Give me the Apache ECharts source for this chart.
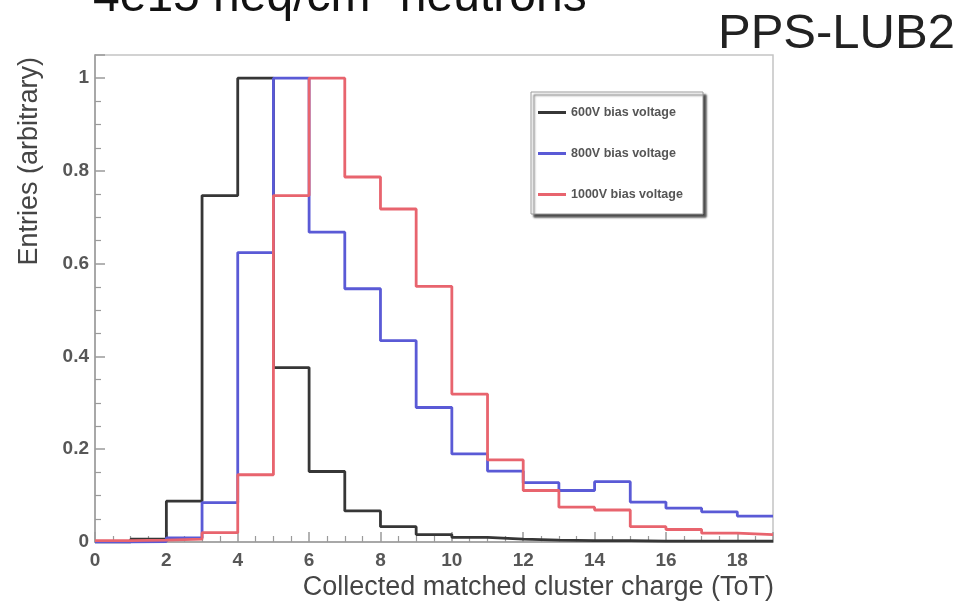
<!DOCTYPE html>
<html>
<head>
<meta charset="utf-8">
<script src="https://cdn.jsdelivr.net/npm/echarts@6/dist/echarts.min.js"></script>
<style>
  html, body { margin: 0; padding: 0; background: #fff; }
  #chart { width: 959px; height: 601px; }
</style>
</head>
<body>
<div id="chart"></div>
<script>
// Histogram bins: lower edges (ToT units), last upper edge closes the outline
const binLow = [0, 1, 2, 3, 4, 5, 6, 7, 8, 9, 10, 11, 12, 13, 14, 15, 16, 17, 18];
const binHighLast = 19;

// Normalised entries per bin for each bias voltage
const v600 = [0, 0.006, 0.088, 0.747, 1.0, 0.376, 0.152, 0.067, 0.033, 0.016, 0.010, 0.006, 0.004, 0.003, 0.003, 0.002, 0.002, 0.002, 0.002];
const v800 = [0, 0.001, 0.009, 0.085, 0.624, 1.0, 0.668, 0.546, 0.434, 0.290, 0.190, 0.153, 0.128, 0.111, 0.130, 0.086, 0.073, 0.065, 0.056];
const v1000 = [0.003, 0.004, 0.006, 0.020, 0.145, 0.747, 1.0, 0.787, 0.718, 0.551, 0.319, 0.177, 0.111, 0.075, 0.069, 0.033, 0.027, 0.019, 0.016];

const seriesNames = ['600V bias voltage', '800V bias voltage', '1000V bias voltage'];
const seriesColors = ['#363636', '#5a5ad6', '#e8646e'];

const xTicks = { min: 0, max: 19, interval: 2 };
const yTicks = { min: 0, max: 1.05, interval: 0.2 };

// Turn bin contents into step-outline points
function outline(vals) {
  const pts = binLow.map((x, i) => [x, vals[i]]);
  pts.push([binHighLast, vals[vals.length - 1]]);
  return pts;
}

const chart = echarts.init(document.getElementById('chart'), null, { renderer: 'canvas' });

const FONT = '"Liberation Sans", Arial, Helvetica, sans-serif';
const axisGrey = '#9a9a9a';

chart.setOption({
  animation: false,
  backgroundColor: '#fff',
  grid: {
    left: 95, right: 186, top: 55, bottom: 59,
    show: true, borderColor: '#c4c4c4', borderWidth: 1.5, backgroundColor: 'transparent'
  },
  xAxis: {
    type: 'value',
    min: xTicks.min, max: xTicks.max, interval: xTicks.interval,
    axisLine: { show: true, onZero: false, lineStyle: { color: axisGrey, width: 1.5 } },
    axisTick: { show: true, inside: true, length: 10, lineStyle: { color: axisGrey, width: 1.5 } },
    minorTick: { show: true, splitNumber: 4, length: 6, lineStyle: { color: axisGrey, width: 1.2 } },
    splitLine: { show: false },
    axisLabel: {
      show: true, margin: 9, showMaxLabel: false,
      fontFamily: FONT, fontSize: 19, fontWeight: 'bold', color: '#575757',
      formatter: v => String(v)
    }
  },
  yAxis: {
    type: 'value',
    min: yTicks.min, max: yTicks.max, interval: yTicks.interval,
    axisLine: { show: true, onZero: false, lineStyle: { color: axisGrey, width: 1.5 } },
    axisTick: { show: true, inside: true, length: 10, lineStyle: { color: axisGrey, width: 1.5 } },
    minorTick: { show: true, splitNumber: 4, length: 6, lineStyle: { color: axisGrey, width: 1.2 } },
    splitLine: { show: false },
    axisLabel: {
      show: true, margin: 6, showMaxLabel: false,
      fontFamily: FONT, fontSize: 19, fontWeight: 'bold', color: '#575757',
      formatter: v => (v === 0 ? '0' : String(+v.toFixed(1)))
    }
  },
  legend: {
    orient: 'vertical',
    left: 538, top: 106,
    itemWidth: 28, itemHeight: 3, itemGap: 28,
    icon: 'rect',
    selectedMode: false,
    padding: 0,
    textStyle: { fontFamily: FONT, fontSize: 12.5, fontWeight: 'bold', color: '#555', lineHeight: 13 },
    data: seriesNames
  },
  graphic: [
    {
      type: 'rect', z: 1,
      shape: { x: 531, y: 92, width: 172, height: 122 },
      style: { fill: '#fff', stroke: '#9a9a9a', lineWidth: 1, shadowColor: 'rgba(40,40,40,0.85)', shadowOffsetX: 3, shadowOffsetY: 3, shadowBlur: 2 }
    },
    {
      type: 'text', x: 93, y: -2,
      style: { text: '4e15 neq/cm\u00b2 neutrons', font: '48px ' + FONT, fill: '#111', align: 'left', verticalAlign: 'middle', textAlign: 'left', textVerticalAlign: 'middle' }
    },
    {
      type: 'text', x: 718, y: 34,
      style: { text: 'PPS-LUB2', font: '49px ' + FONT, fill: '#222', align: 'left', verticalAlign: 'middle', textAlign: 'left', textVerticalAlign: 'middle' }
    },
    {
      type: 'text', x: 774, y: 588,
      style: { text: 'Collected matched cluster charge (ToT)', font: '27px ' + FONT, fill: '#454545', align: 'right', verticalAlign: 'middle', textAlign: 'right', textVerticalAlign: 'middle' }
    },
    {
      type: 'text', x: 29.5, y: 57, rotation: Math.PI / 2,
      style: { text: 'Entries (arbitrary)', font: '27px ' + FONT, fill: '#454545', align: 'right', verticalAlign: 'middle', textAlign: 'right', textVerticalAlign: 'middle' }
    }
  ],
  series: [v600, v800, v1000].map((vals, i) => ({
    name: seriesNames[i],
    type: 'line',
    step: 'end',
    data: outline(vals),
    showSymbol: false,
    symbol: 'none',
    color: seriesColors[i],
    lineStyle: { color: seriesColors[i], width: 2.8 },
    z: 2 + i
  }))
});
</script>
</body>
</html>
